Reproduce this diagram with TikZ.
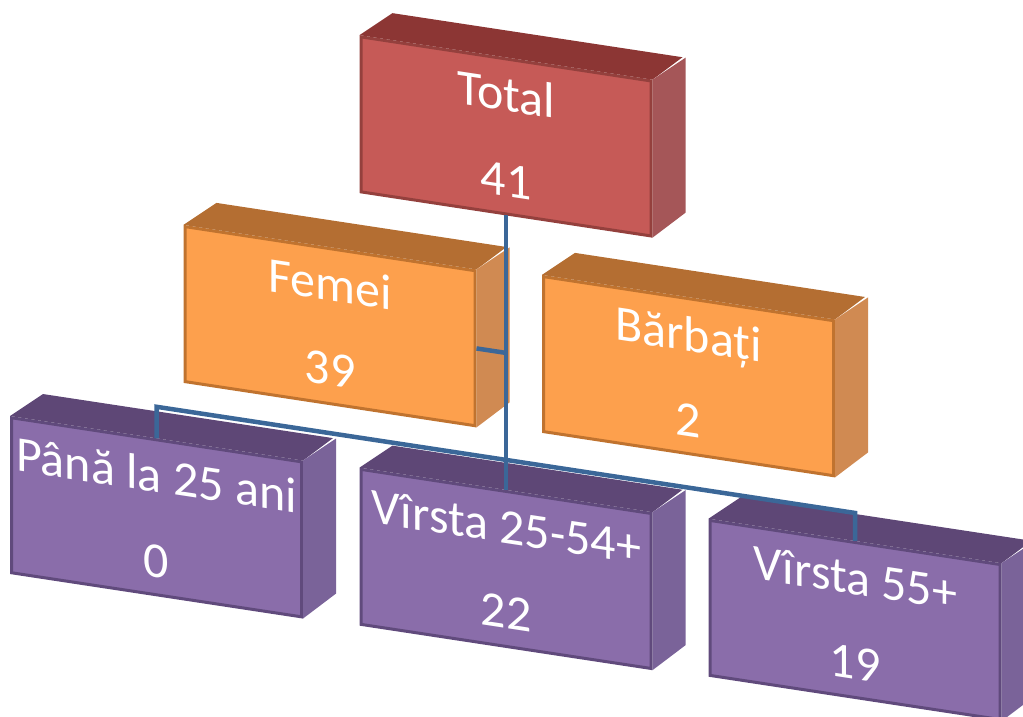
\documentclass[tikz,border=0pt]{standalone}
\usepackage{fontspec}
\setmainfont{Carlito}

\definecolor{redFront}{HTML}{C65A57}
\definecolor{redTop}{HTML}{8C3634}
\definecolor{redSide}{HTML}{A55658}
\definecolor{redLine}{HTML}{94403D}
\definecolor{orangeFront}{HTML}{FDA04D}
\definecolor{orangeTop}{HTML}{B46E32}
\definecolor{orangeSide}{HTML}{D08A52}
\definecolor{orangeLine}{HTML}{C0732F}
\definecolor{purpleFront}{HTML}{8A6DAA}
\definecolor{purpleTop}{HTML}{5E4776}
\definecolor{purpleSide}{HTML}{7A6399}
\definecolor{purpleLine}{HTML}{604A7C}
\definecolor{linkBlue}{HTML}{3B6798}

\tikzset{
  box/.style={transform shape, minimum width=290pt, minimum height=155pt,
    inner sep=0pt, align=center, text=white, line width=3pt,
    font=\fontsize{50}{85}\selectfont},
  link/.style={draw=linkBlue, line width=4.5pt}
}

\begin{document}
\begin{tikzpicture}[x=1pt,y=1pt]
	% Frame
	\useasboundingbox (0,0) rectangle (1023,-717);
	\clip (0,0) rectangle (1023,-717);
	\begin{scope}[yslant=-0.152]
		% Boxes
		\foreach \name/\x/\y/\col/\txt in {
				total/506/-59.5/red/{Total\\41},
				femei/330/-276/orange/{Femei\\39},
				barbati/688.5/-271.5/orange/{Bărbați\\2},
				pana/156.5/-493.5/purple/{Până la 25 ani\\0},
				mid/506/-492/purple/{Vîrsta 25-54+\\22},
				old/855/-490/purple/{Vîrsta 55+\\19}} {
			\node[box, fill=\col Front, draw=\col Line] (\name) at (\x,\y) {\txt};
			\fill[fill=\col Top] (\name.north west) -- ++(33,27) -- ++(290,0) -- (\name.north east) -- cycle;
			\fill[fill=\col Side] (\name.north east) -- ++(33,27) -- ++(0,-155) -- (\name.south east) -- cycle;
		}
		% Links
		\coordinate (bus) at (0,-383);
		\draw[link] (total.south) -- (mid.north);
		\draw[link] (femei.east) -- (femei.east -| total.south);
		\draw[link] (pana.north) -- (pana.north |- bus) -- (old.north |- bus) -- (old.north);
	\end{scope}
\end{tikzpicture}
\end{document}
